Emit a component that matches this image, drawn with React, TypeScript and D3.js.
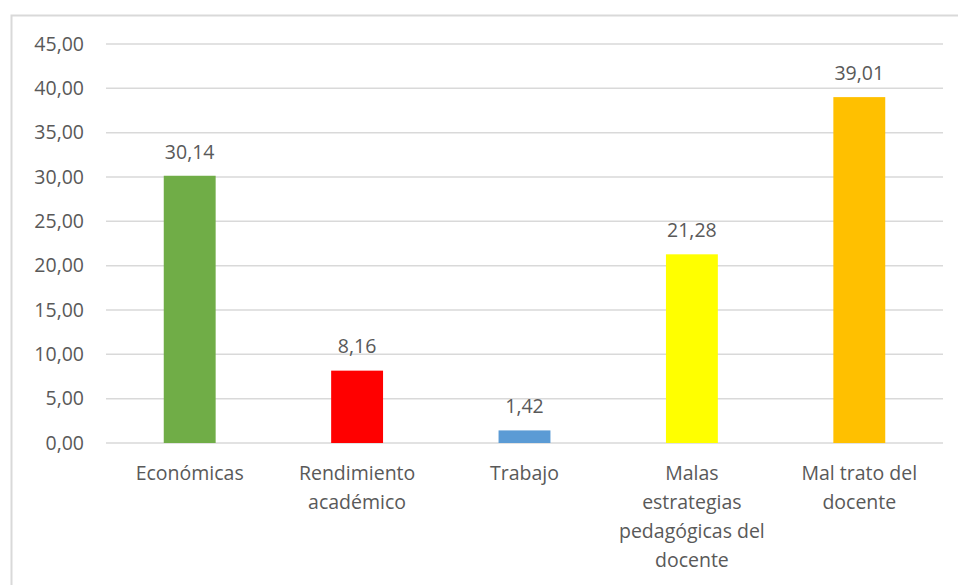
import * as d3 from "d3";

const categories = [
  "Económicas",
  "Rendimiento\nacadémico",
  "Trabajo",
  "Malas\nestrategias\npedagógicas del\ndocente",
  "Mal trato del\ndocente",
];
const values = [30.14, 8.16, 1.42, 21.28, 39.01];
const barColors = ["#70AD47", "#FF0000", "#5B9BD5", "#FFFF00", "#FFC000"];
const yTicks = [0, 5, 10, 15, 20, 25, 30, 35, 40, 45];

const WIDTH = 958;
const HEIGHT = 585;
const MARGIN = { top: 44, right: 15, bottom: 142, left: 106 };
const FONT = "'Open Sans', 'Liberation Sans', sans-serif";
const TEXT_COLOR = "#595959";
const FONT_SIZE = 19.5;

const fmt = (v: number, digits: number) => v.toFixed(digits).replace(".", ",");

export default function App() {
  const x = d3
    .scaleBand()
    .domain(categories)
    .range([MARGIN.left, WIDTH - MARGIN.right])
    .padding(0);
  const y = d3
    .scaleLinear()
    .domain([0, 45])
    .range([HEIGHT - MARGIN.bottom, MARGIN.top]);
  const barW = x.bandwidth() * 0.31;

  return (
    <div style={{ position: "fixed", left: 0, top: 0, background: "#fff" }}>
      <svg width={WIDTH} height={HEIGHT} style={{ display: "block" }} fontFamily={FONT}>
        <rect x={0} y={0} width={WIDTH} height={HEIGHT} fill="#fff" />
        {/* chart frame */}
        <rect x={11.5} y={15.5} width={WIDTH + 20} height={HEIGHT + 20} fill="none" stroke="#d9d9d9" strokeWidth={2} />

        {/* grid + y labels */}
        {yTicks.map((t) => (
          <g key={t}>
            <line
              x1={MARGIN.left}
              x2={WIDTH - MARGIN.right}
              y1={y(t)}
              y2={y(t)}
              stroke="#d9d9d9"
              strokeWidth={1.5}
            />
            <text x={84} y={y(t)} dy="0.35em" textAnchor="end" fontSize={FONT_SIZE} fill={TEXT_COLOR}>
              {fmt(t, 2)}
            </text>
          </g>
        ))}

        {/* bars */}
        {categories.map((c, i) => {
          const cx = (x(c) ?? 0) + x.bandwidth() / 2;
          return (
            <g key={c}>
              <rect
                x={cx - barW / 2}
                y={y(values[i])}
                width={barW}
                height={y(0) - y(values[i])}
                fill={barColors[i]}
              />
              <text x={cx} y={y(values[i]) - 24} dy="0.35em" textAnchor="middle" fontSize={FONT_SIZE} fill={TEXT_COLOR}>
                {fmt(values[i], 2)}
              </text>
            </g>
          );
        })}

        {/* category labels */}
        {categories.map((c) => {
          const cx = (x(c) ?? 0) + x.bandwidth() / 2;
          return (
            <text key={c} textAnchor="middle" fontSize={FONT_SIZE} fill={TEXT_COLOR}>
              {c.split("\n").map((line, j) => (
                <tspan key={j} x={cx} y={y(0) + 30 + j * 29} dy="0.35em">
                  {line}
                </tspan>
              ))}
            </text>
          );
        })}
      </svg>
    </div>
  );
}
